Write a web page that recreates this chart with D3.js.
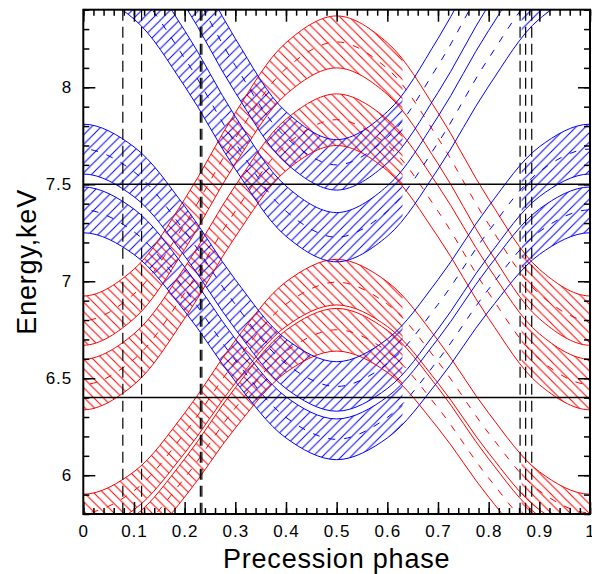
<!DOCTYPE html>
<html>
<head>
<meta charset="utf-8">
<script src="https://cdn.jsdelivr.net/npm/d3@7"></script>
<style>
  body { margin: 0; background: #fff; }
  text { font-family: "Liberation Sans", Arial, sans-serif; }
</style>
</head>
<body>
<div id="chart"></div>
<script>
// precession phase samples (a bit past both ends so the curves run off the frame)
const phase = [-0.1, 0, 0.1, 0.2, 0.3, 0.4, 0.5, 0.6, 0.7, 0.8, 0.9, 1, 1.1];

// blue jet bands, keV (top / bottom edge of each band)
const blue1Top = [7.693, 7.81, 7.693, 7.387, 7.008, 6.702, 6.585, 6.702, 7.008, 7.387, 7.693, 7.81, 7.693];
const blue1Bot = [7.436, 7.553, 7.436, 7.130, 6.753, 6.447, 6.33, 6.447, 6.753, 7.130, 7.436, 7.553, 7.436];
const blue2Top = [7.372, 7.486, 7.372, 7.073, 6.703, 6.404, 6.29, 6.404, 6.703, 7.073, 7.372, 7.486, 7.372];
const blue2Bot = [7.138, 7.25, 7.138, 6.846, 6.484, 6.192, 6.08, 6.192, 6.484, 6.846, 7.138, 7.25, 7.138];
const blue3Top = [9.094, 9.238, 9.094, 8.717, 8.251, 7.874, 7.73, 7.874, 8.251, 8.717, 9.094, 9.238, 9.094];
const blue3Bot = [8.787, 8.926, 8.787, 8.423, 7.973, 7.609, 7.47, 7.609, 7.973, 8.423, 8.787, 8.926, 8.787];
const blue4Top = [8.651, 8.788, 8.651, 8.293, 7.849, 7.491, 7.354, 7.491, 7.849, 8.293, 8.651, 8.788, 8.651];
const blue4Bot = [8.352, 8.484, 8.352, 8.006, 7.578, 7.232, 7.10, 7.232, 7.578, 8.006, 8.352, 8.484, 8.352];

// red jet bands, keV
const red1Top = [6.018, 5.902, 6.018, 6.320, 6.695, 6.997, 7.113, 6.997, 6.695, 6.320, 6.018, 5.902, 6.018];
const red1Bot = [5.822, 5.71, 5.822, 6.114, 6.475, 6.767, 6.878, 6.767, 6.475, 6.114, 5.822, 5.71, 5.822];
const red2Top = [5.788, 5.675, 5.788, 6.084, 6.451, 6.747, 6.86, 6.747, 6.451, 6.084, 5.788, 5.675, 5.788];
const red2Bot = [5.600, 5.49, 5.600, 5.887, 6.243, 6.530, 6.64, 6.530, 6.243, 5.887, 5.600, 5.49, 5.600];
const red3Top = [7.062, 6.924, 7.062, 7.423, 7.869, 8.230, 8.368, 8.230, 7.869, 7.423, 7.062, 6.924, 7.062];
const red3Bot = [6.807, 6.67, 6.807, 7.164, 7.606, 7.963, 8.10, 7.963, 7.606, 7.164, 6.807, 6.67, 6.807];
const red4Top = [6.729, 6.598, 6.729, 7.071, 7.493, 7.835, 7.966, 7.835, 7.493, 7.071, 6.729, 6.598, 6.729];
const red4Bot = [6.467, 6.337, 6.467, 6.808, 7.229, 7.570, 7.70, 7.570, 7.229, 6.808, 6.467, 6.337, 6.467];

// phase ranges where the bands are hatched (outside them only the edges are drawn)
const hatchRanges = [[0, 0.63], [0.865, 1]];

// observation phases (vertical dashed) and reference energies (horizontal solid)
const obsPhases = [0.078, 0.115, 0.231, 0.234, 0.862, 0.873, 0.885];
const refEnergies = [7.5, 6.4];

const xMajor = [0, 0.1, 0.2, 0.3, 0.4, 0.5, 0.6, 0.7, 0.8, 0.9, 1];
const yMajor = [6, 6.5, 7, 7.5, 8];

const W = 592, H = 574;
const mL = 83.3, mR = 590, mT = 9.7, mB = 514;

const x = d3.scaleLinear().domain([0, 1]).range([mL, mR]);
const y = d3.scaleLinear().domain([5.8, 8.4]).range([mB, mT]);

const svg = d3.select("#chart").append("svg")
    .attr("width", W).attr("height", H);

const defs = svg.append("defs");
defs.append("clipPath").attr("id", "plotclip")
  .append("rect")
    .attr("x", mL).attr("y", mT)
    .attr("width", mR - mL).attr("height", mB - mT);

defs.append("clipPath").attr("id", "hatchclip")
  .selectAll("rect").data(hatchRanges).enter().append("rect")
    .attr("x", d => x(d[0])).attr("y", mT)
    .attr("width", d => x(d[1]) - x(d[0])).attr("height", mB - mT);

// hatch patterns: blue "/" and red "\"
function hatch(id, color, dir) {
    const s = 9.5;
    const p = defs.append("pattern").attr("id", id)
        .attr("patternUnits", "userSpaceOnUse")
        .attr("width", s).attr("height", s);
    const d = dir > 0
        ? `M0,${s} L${s},0 M${-s/2},${s/2} L${s/2},${-s/2} M${s/2},${s*1.5} L${s*1.5},${s/2}`
        : `M0,0 L${s},${s} M${-s/2},${s/2} L${s/2},${s*1.5} M${s/2},${-s/2} L${s*1.5},${s/2}`;
    p.append("path").attr("d", d)
        .attr("stroke", color).attr("stroke-width", 1).attr("fill", "none");
}
hatch("hb", "#0000ff", 1);
hatch("hr", "#ff0000", -1);

const bands = [
    { top: red1Top, bot: red1Bot, color: "#ff0000", pat: "hr" },
    { top: red2Top, bot: red2Bot, color: "#ff0000", pat: "hr" },
    { top: red3Top, bot: red3Bot, color: "#ff0000", pat: "hr" },
    { top: red4Top, bot: red4Bot, color: "#ff0000", pat: "hr" },
    { top: blue1Top, bot: blue1Bot, color: "#0000ff", pat: "hb" },
    { top: blue2Top, bot: blue2Bot, color: "#0000ff", pat: "hb" },
    { top: blue3Top, bot: blue3Bot, color: "#0000ff", pat: "hb" },
    { top: blue4Top, bot: blue4Bot, color: "#0000ff", pat: "hb" }
];

const plot = svg.append("g").attr("clip-path", "url(#plotclip)");
const fills = plot.append("g").attr("clip-path", "url(#hatchclip)");

const area = d3.area()
    .x((d, i) => x(phase[i]))
    .y0(d => y(d[0]))
    .y1(d => y(d[1]))
    .curve(d3.curveCatmullRom);

const line = d3.line()
    .x((d, i) => x(phase[i]))
    .y(d => y(d))
    .curve(d3.curveCatmullRom);

bands.forEach(b => {
    const pairs = b.top.map((t, i) => [b.bot[i], t]);
    fills.append("path").attr("d", area(pairs))
        .attr("fill", `url(#${b.pat})`).attr("stroke", "none");
});

bands.forEach(b => {
    const mid = b.top.map((t, i) => (t + b.bot[i]) / 2);
    plot.append("path").attr("d", line(b.top))
        .attr("fill", "none").attr("stroke", b.color).attr("stroke-width", 1);
    plot.append("path").attr("d", line(b.bot))
        .attr("fill", "none").attr("stroke", b.color).attr("stroke-width", 1);
    plot.append("path").attr("d", line(mid))
        .attr("fill", "none").attr("stroke", b.color).attr("stroke-width", 1)
        .attr("stroke-dasharray", "7,9");
});

// reference lines
plot.selectAll(".ref").data(refEnergies).enter().append("line")
    .attr("x1", mL).attr("x2", mR)
    .attr("y1", d => y(d)).attr("y2", d => y(d))
    .attr("stroke", "#000").attr("stroke-width", 1.5);

plot.selectAll(".obs").data(obsPhases).enter().append("line")
    .attr("x1", d => x(d)).attr("x2", d => x(d))
    .attr("y1", mT).attr("y2", mB)
    .attr("stroke", "#000").attr("stroke-width", 1.2)
    .attr("stroke-dasharray", "11,6");

// axes, ticks pointing inward
const xMinor = d3.range(0, 1.0001, 0.02);
const yMinor = d3.range(5.8, 8.4001, 0.1);

function axisStyle(g) {
    g.select(".domain").remove();
    g.selectAll("line").attr("stroke", "#000").attr("stroke-width", 1.5);
    g.selectAll("text").attr("font-size", 17).attr("letter-spacing", 1).attr("fill", "#000");
}

svg.append("g").attr("transform", `translate(0,${mB})`)
    .call(d3.axisBottom(x).tickValues(xMinor).tickSize(-6).tickFormat(""))
    .call(axisStyle);
svg.append("g").attr("transform", `translate(0,${mB})`)
    .call(d3.axisBottom(x).tickValues(xMajor).tickSize(-12).tickPadding(11)
        .tickFormat(d => d3.format("~g")(d)))
    .call(axisStyle);
svg.append("g").attr("transform", `translate(0,${mT})`)
    .call(d3.axisTop(x).tickValues(xMinor).tickSize(-6).tickFormat(""))
    .call(axisStyle);
svg.append("g").attr("transform", `translate(0,${mT})`)
    .call(d3.axisTop(x).tickValues(xMajor).tickSize(-12).tickFormat(""))
    .call(axisStyle);

svg.append("g").attr("transform", `translate(${mL},0)`)
    .call(d3.axisLeft(y).tickValues(yMinor).tickSize(-6).tickFormat(""))
    .call(axisStyle);
svg.append("g").attr("transform", `translate(${mL},0)`)
    .call(d3.axisLeft(y).tickValues(yMajor).tickSize(-12).tickPadding(11)
        .tickFormat(d => d3.format("~g")(d)))
    .call(axisStyle);
svg.append("g").attr("transform", `translate(${mR},0)`)
    .call(d3.axisRight(y).tickValues(yMinor).tickSize(-6).tickFormat(""))
    .call(axisStyle);
svg.append("g").attr("transform", `translate(${mR},0)`)
    .call(d3.axisRight(y).tickValues(yMajor).tickSize(-12).tickFormat(""))
    .call(axisStyle);

// frame
svg.append("rect")
    .attr("x", mL).attr("y", mT)
    .attr("width", mR - mL).attr("height", mB - mT)
    .attr("fill", "none").attr("stroke", "#000").attr("stroke-width", 2);

// titles
svg.append("text")
    .attr("x", (mL + mR) / 2).attr("y", 568)
    .attr("text-anchor", "middle")
    .attr("font-size", 27).attr("letter-spacing", 0.8)
    .text("Precession phase");

svg.append("text")
    .attr("transform", `translate(36,${(mT + mB) / 2}) rotate(-90)`)
    .attr("text-anchor", "middle")
    .attr("font-size", 27).attr("letter-spacing", 0.8)
    .text("Energy,keV");
</script>
</body>
</html>
